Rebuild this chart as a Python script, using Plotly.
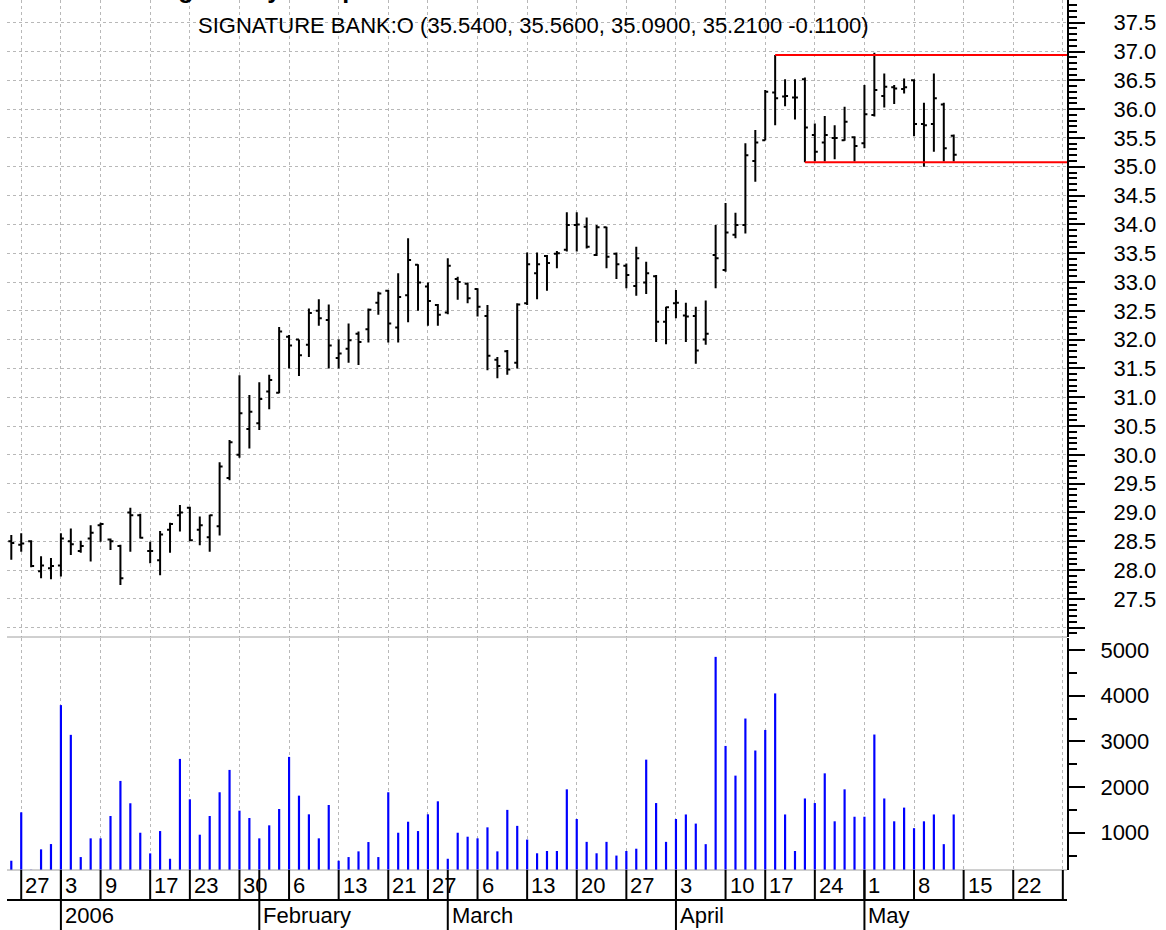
import numpy as np
import plotly.graph_objects as go

# ---------------- data ----------------
dates = ["2005-12-23", "2005-12-27", "2005-12-28", "2005-12-29", "2005-12-30",
         "2006-01-03", "2006-01-04", "2006-01-05", "2006-01-06", "2006-01-09",
         "2006-01-10", "2006-01-11", "2006-01-12", "2006-01-13", "2006-01-17",
         "2006-01-18", "2006-01-19", "2006-01-20", "2006-01-23", "2006-01-24",
         "2006-01-25", "2006-01-26", "2006-01-27", "2006-01-30", "2006-01-31",
         "2006-02-01", "2006-02-02", "2006-02-03", "2006-02-06", "2006-02-07",
         "2006-02-08", "2006-02-09", "2006-02-10", "2006-02-13", "2006-02-14",
         "2006-02-15", "2006-02-16", "2006-02-17", "2006-02-21", "2006-02-22",
         "2006-02-23", "2006-02-24", "2006-02-27", "2006-02-28", "2006-03-01",
         "2006-03-02", "2006-03-03", "2006-03-06", "2006-03-07", "2006-03-08",
         "2006-03-09", "2006-03-10", "2006-03-13", "2006-03-14", "2006-03-15",
         "2006-03-16", "2006-03-17", "2006-03-20", "2006-03-21", "2006-03-22",
         "2006-03-23", "2006-03-24", "2006-03-27", "2006-03-28", "2006-03-29",
         "2006-03-30", "2006-03-31", "2006-04-03", "2006-04-04", "2006-04-05",
         "2006-04-06", "2006-04-07", "2006-04-10", "2006-04-11", "2006-04-12",
         "2006-04-13", "2006-04-17", "2006-04-18", "2006-04-19", "2006-04-20",
         "2006-04-21", "2006-04-24", "2006-04-25", "2006-04-26", "2006-04-27",
         "2006-04-28", "2006-05-01", "2006-05-02", "2006-05-03", "2006-05-04",
         "2006-05-05", "2006-05-08", "2006-05-09", "2006-05-10", "2006-05-11",
         "2006-05-12"]

opens = [28.50, 28.44, 28.50, 27.98, 28.03, 28.08, 28.50, 28.33, 28.55, 28.78,
         28.53, 28.42, 29.00, 28.95, 28.33, 28.17, 28.70, 28.95, 29.08, 28.70,
         28.57, 28.76, 29.60, 30.00, 30.45, 30.55, 31.10, 31.08, 32.05, 32.00,
         31.91, 32.50, 32.34, 31.68, 31.84, 32.10, 32.18, 32.64, 32.85, 32.21,
         32.77, 33.30, 32.92, 32.60, 32.47, 33.05, 32.97, 32.88, 32.41, 31.65,
         31.80, 31.60, 32.63, 33.15, 33.45, 33.49, 33.56, 33.99, 33.96, 33.47,
         33.95, 33.49, 33.28, 32.93, 32.99, 33.10, 32.31, 32.63, 32.42, 32.41,
         32.00, 33.47, 33.21, 33.82, 33.99, 35.10, 35.46, 36.29, 36.22, 36.20,
         36.52, 35.55, 35.42, 35.50, 35.46, 35.51, 35.41, 35.90, 36.23, 36.38,
         36.35, 36.50, 35.74, 35.74, 36.08, 35.54]
highs = [28.61, 28.64, 28.52, 28.24, 28.21, 28.64, 28.72, 28.51, 28.78, 28.82,
         28.55, 28.44, 29.08, 28.98, 28.49, 28.68, 28.82, 29.13, 29.10, 28.93,
         28.96, 29.87, 30.26, 31.38, 31.04, 31.26, 31.39, 32.22, 32.08, 32.00,
         32.54, 32.70, 32.61, 32.00, 32.28, 32.14, 32.54, 32.83, 32.86, 33.15,
         33.76, 33.31, 32.99, 32.62, 33.41, 33.09, 32.99, 32.89, 32.60, 31.70,
         31.82, 32.63, 33.51, 33.51, 33.47, 33.54, 34.21, 34.21, 34.12, 33.99,
         33.96, 33.51, 33.32, 33.61, 33.35, 33.12, 32.57, 32.86, 32.64, 32.57,
         32.68, 33.99, 34.37, 34.20, 35.41, 35.64, 36.33, 36.94, 36.52, 36.52,
         36.55, 35.75, 35.88, 35.72, 36.04, 35.53, 36.42, 36.98, 36.62, 36.42,
         36.53, 36.52, 36.11, 36.62, 36.11, 35.56]
lows = [28.18, 28.32, 28.05, 27.86, 27.84, 27.89, 28.26, 28.30, 28.15, 28.49,
        28.35, 27.74, 28.32, 28.55, 28.12, 27.91, 28.30, 28.67, 28.50, 28.43,
        28.32, 28.60, 29.56, 29.95, 30.11, 30.43, 30.79, 31.07, 31.50, 31.37,
        31.70, 32.24, 31.50, 31.50, 31.60, 31.56, 31.95, 32.43, 31.95, 31.95,
        32.30, 32.50, 32.24, 32.24, 32.44, 32.69, 32.63, 32.40, 31.47, 31.33,
        31.39, 31.50, 32.60, 32.70, 32.85, 33.24, 33.53, 33.53, 33.58, 33.45,
        33.24, 33.05, 32.89, 32.76, 32.79, 31.96, 31.92, 32.37, 31.96, 31.58,
        31.91, 32.89, 33.18, 33.76, 33.84, 34.74, 35.46, 35.72, 36.05, 35.82,
        35.08, 35.09, 35.09, 35.13, 35.45, 35.09, 35.32, 35.87, 36.03, 36.09,
        36.27, 35.53, 35.00, 35.26, 35.09, 35.09]
closes = [28.47, 28.46, 28.07, 28.08, 28.07, 28.55, 28.45, 28.42, 28.65, 28.80,
          28.50, 27.86, 28.95, 28.56, 28.33, 28.62, 28.80, 29.00, 28.52, 28.78,
          28.95, 29.80, 30.22, 30.72, 30.75, 30.97, 31.30, 32.14, 31.90, 31.73,
          32.46, 32.37, 31.90, 31.76, 31.99, 31.96, 32.52, 32.80, 32.28, 32.74,
          33.38, 32.99, 32.67, 32.43, 33.28, 33.00, 32.72, 32.57, 31.72, 31.54,
          31.48, 32.61, 33.31, 33.31, 33.33, 33.50, 33.99, 34.00, 33.61, 33.95,
          33.44, 33.31, 33.12, 33.41, 33.15, 32.31, 32.56, 32.64, 32.40, 31.81,
          32.10, 33.41, 33.86, 33.99, 35.20, 35.42, 36.30, 36.19, 36.23, 36.20,
          35.68, 35.26, 35.55, 35.50, 35.78, 35.36, 35.91, 36.33, 36.39, 36.36,
          36.38, 35.74, 35.72, 36.19, 35.32, 35.21]
volumes = [387, 1447, 189, 636, 752, 3794, 3143, 467, 877, 877,
           1366, 2134, 1645, 1000, 548, 1037, 430, 2616, 1732, 957,
           1366, 1886, 2375, 1483, 1322, 877, 1162, 1520, 2660, 1812,
           1403, 877, 1607, 387, 467, 592, 796, 467, 1886, 1000,
           1241, 1037, 1403, 1688, 430, 1000, 913, 877, 1118, 592,
           1500, 1150, 850, 550, 600, 600, 1950, 1300, 800, 550,
           800, 500, 600, 650, 2600, 1650, 800, 1300, 1400, 1200,
           750, 4850, 2900, 2250, 3500, 2800, 3250, 4050, 1400, 600,
           1750, 1650, 2300, 1250, 1950, 1350, 1350, 3150, 1750, 1250,
           1550, 1100, 1250, 1400, 750, 1400]

# horizontal resistance / support lines (drawn in red)
resistance_level = 36.94
resistance_start = "2006-04-18"
support_level = 35.08
support_start = "2006-04-21"

# date axis labels
day_label_dates = ["2005-12-27", "2006-01-03", "2006-01-09", "2006-01-17", "2006-01-23",
                   "2006-01-30", "2006-02-06", "2006-02-13", "2006-02-21", "2006-02-27",
                   "2006-03-06", "2006-03-13", "2006-03-20", "2006-03-27", "2006-04-03",
                   "2006-04-10", "2006-04-17", "2006-04-24", "2006-05-01", "2006-05-08",
                   "2006-05-15", "2006-05-22", "2006-05-30"]
day_labels = ["27", "3", "9", "17", "23", "30", "6", "13", "21", "27", "6", "13", "20",
              "27", "3", "10", "17", "24", "1", "8", "15", "22", ""]
month_label_dates = ["2006-01-03", "2006-02-01", "2006-03-01", "2006-04-03", "2006-05-01"]
month_labels = ["2006", "February", "March", "April", "May"]
future_holidays = ["2006-05-29"]

title_text = "Rectangle Daily Setup"
subtitle_text = "SIGNATURE BANK:O (35.5400, 35.5600, 35.0900, 35.2100 -0.1100)"

# ---------------- helpers ----------------
n = len(dates)
xi = list(range(n))


def date_index(d):
    if d in dates:
        return dates.index(d)
    return (n - 1) + int(np.busday_count(np.datetime64(dates[-1]), np.datetime64(d),
                                         holidays=future_holidays))


day_idx = [date_index(d) for d in day_label_dates]
month_idx = [date_index(d) for d in month_label_dates]

FONT = "Liberation Sans, Arial, sans-serif"
W, H = 1166, 930
ML, MR, MT, MB = 7, 99, 0, 60
PH = H - MT - MB  # plot height in px


def py(px):  # pixel y (from top) -> paper y
    return (H - MB - px) / PH


x_range = [-0.433, 106.42]

fig = go.Figure()

fig.add_trace(go.Ohlc(
    x=xi, open=opens, high=highs, low=lows, close=closes,
    increasing=dict(line=dict(color="black", width=2)),
    decreasing=dict(line=dict(color="black", width=2)),
    tickwidth=0.3, xaxis="x", yaxis="y", hoverinfo="skip", showlegend=False))

fig.add_trace(go.Bar(
    x=xi, y=volumes, width=0.22, marker=dict(color="#0000ff", line=dict(width=0)),
    xaxis="x2", yaxis="y2", hoverinfo="skip", showlegend=False))

grid = dict(showgrid=True, gridcolor="#b8b8b8", gridwidth=1, griddash="dot")

fig.update_layout(
    width=W, height=H,
    margin=dict(l=ML, r=MR, t=MT, b=MB, pad=0),
    paper_bgcolor="white", plot_bgcolor="white",
    hovermode=False, showlegend=False,
    font=dict(family=FONT, size=22, color="black"),
    xaxis=dict(domain=[0, 1], range=x_range, anchor="y", tickmode="array",
               tickvals=day_idx, showticklabels=False, ticks="", zeroline=False,
               showline=False, rangeslider=dict(visible=False), **grid),
    xaxis2=dict(domain=[0, 1], range=x_range, anchor="y2", matches="x", tickmode="array",
                tickvals=day_idx, showticklabels=False, ticks="", zeroline=False,
                showline=False, **grid),
    yaxis=dict(domain=[py(637), 1], range=[26.839, 37.894], side="right", anchor="x",
               tickmode="array",
               tickvals=[27.0 + 0.5 * k for k in range(22)],
               ticktext=[""] + ["%.1f" % (27.0 + 0.5 * k) for k in range(1, 22)],
               ticks="outside", ticklen=16, tickwidth=2, tickcolor="black",
               minor=dict(tickmode="linear", tick0=0, dtick=0.1, ticks="outside",
                          ticklen=8, tickwidth=2, tickcolor="black", showgrid=False),
               showline=True, linecolor="black", linewidth=2, zeroline=False,
               tickfont=dict(family=FONT, size=22, color="black"),
               ticklabelstandoff=24, **grid),
    yaxis2=dict(domain=[0, py(638)], range=[184, 5263], side="right", anchor="x2",
                tickmode="array", tickvals=[1000, 2000, 3000, 4000, 5000],
                ticks="outside", ticklen=16, tickwidth=2, tickcolor="black",
                minor=dict(tickmode="linear", tick0=0, dtick=500, ticks="outside",
                           ticklen=8, tickwidth=2, tickcolor="black", showgrid=False),
                showline=True, linecolor="black", linewidth=2, zeroline=False,
                showgrid=False, tickfont=dict(family=FONT, size=22, color="black"),
                ticklabelstandoff=11),
)

shapes = []
# separator between the price and volume panels, and bottom of volume panel
shapes.append(dict(type="line", xref="paper", yref="paper", x0=0, x1=1,
                   y0=py(637), y1=py(637), line=dict(color="#a0a0a0", width=1)))
shapes.append(dict(type="line", xref="paper", yref="paper", x0=0, x1=1,
                   y0=0, y1=0, line=dict(color="#a0a0a0", width=1)))
# red resistance / support lines
shapes.append(dict(type="line", xref="x", yref="y", x0=date_index(resistance_start),
                   x1=x_range[1], y0=resistance_level, y1=resistance_level,
                   line=dict(color="red", width=2)))
shapes.append(dict(type="line", xref="x", yref="y", x0=date_index(support_start),
                   x1=x_range[1], y0=support_level, y1=support_level,
                   line=dict(color="red", width=2)))
# date axis: horizontal divider between day row and month row
shapes.append(dict(type="line", xref="paper", yref="paper", x0=0, x1=1,
                   y0=py(900), y1=py(900), line=dict(color="black", width=2)))
# day separators
for k in day_idx:
    shapes.append(dict(type="line", xref="x2", yref="paper", x0=k, x1=k,
                       y0=py(870), y1=py(900), line=dict(color="black", width=2)))
# month separators
for k in month_idx:
    shapes.append(dict(type="line", xref="x2", yref="paper", x0=k, x1=k,
                       y0=py(870), y1=py(930), line=dict(color="black", width=2)))

annotations = []
for k, lab in zip(day_idx, day_labels):
    if lab:
        annotations.append(dict(x=k, y=py(886), xref="x2", yref="paper", text=lab,
                                showarrow=False, xanchor="left", yanchor="middle",
                                xshift=2, font=dict(family=FONT, size=22, color="black")))
for k, lab in zip(month_idx, month_labels):
    annotations.append(dict(x=k, y=py(915), xref="x2", yref="paper", text=lab,
                            showarrow=False, xanchor="left", yanchor="middle",
                            xshift=2, font=dict(family=FONT, size=22, color="black")))
annotations.append(dict(x=0.497, y=py(25), xref="paper", yref="paper", text=subtitle_text,
                        showarrow=False, xanchor="center", yanchor="middle",
                        font=dict(family=FONT, size=22, color="black")))
annotations.append(dict(x=(93 - ML) / (W - ML - MR), y=py(5), xref="paper", yref="paper",
                        text="<b>" + title_text + "</b>", showarrow=False,
                        xanchor="left", yanchor="bottom",
                        font=dict(family=FONT, size=25, color="black")))

fig.update_layout(shapes=shapes, annotations=annotations)

fig.write_html("out.html",
               config={"displayModeBar": False, "staticPlot": True},
               post_script="document.body.style.margin='0px';"
                           "document.body.style.overflow='hidden';")
